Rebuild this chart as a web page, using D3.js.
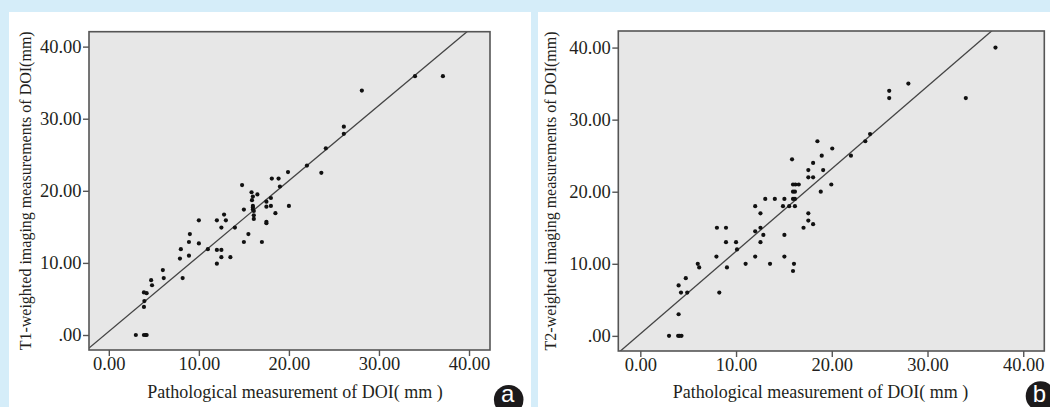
<!DOCTYPE html>
<html lang="en">
<head>
<meta charset="UTF-8">
<title>T1 / T2 DOI vs pathology</title>
<script src="https://d3js.org/d3.v7.min.js"></script>
<style>
  body { margin: 0; background: #d5edf9; }
  svg { display: block; }
  text { font-family: "Liberation Serif", "Times New Roman", serif; fill: #231f20; }
</style>
</head>
<body>
<script>
// [pathological DOI, imaging DOI] in mm
const t1Points = [
  [3, 0], [3.9, 0], [4.1, 0], [4.2, 0], [3.9, 3.9], [3.95, 4.7], [3.9, 5.9], [4.2, 5.8],
  [4.7, 7.6], [4.8, 6.9], [6, 9], [6.1, 7.9], [8, 11.9], [7.9, 10.6], [8.2, 7.9],
  [9, 14], [8.9, 12.9], [8.9, 11], [10, 15.9], [10, 12.7], [11, 11.9], [12, 15.9],
  [12, 11.8], [12, 9.9], [12.5, 11.8], [12.5, 14.9], [12.5, 10.8], [12.8, 16.7], [13, 15.9],
  [13.5, 10.8], [14, 14.9], [14.8, 20.8], [15, 17.4], [15, 12.9], [15.5, 14], [15.85, 19.8],
  [15.9, 18.7], [16, 19.2], [16, 17.9], [16, 17.7], [16, 17.4], [16.1, 17.2], [16.1, 16.6],
  [16.1, 16.1], [16.5, 19.5], [17, 12.9], [17.5, 18.5], [17.5, 17.8], [17.5, 15.7],
  [17.5, 15.5], [18, 19], [18, 17.9], [18.1, 21.7], [18.5, 16.9], [18.85, 21.7], [19, 20.6],
  [19.9, 22.6], [20, 17.9], [22, 23.5], [23.6, 22.5], [24.1, 25.9], [26.1, 28.9],
  [26.1, 27.9], [28.1, 33.9], [34, 35.9], [37.1, 35.9]
];
const t2Points = [
  [3, 0], [3.95, 0], [4.1, 0], [4.3, 0], [4, 3], [4, 7], [4.25, 6], [4.75, 8], [4.9, 6],
  [6, 10], [6.15, 9.5], [7.95, 11], [8, 15], [8.25, 6], [8.95, 15], [8.95, 13], [9.05, 9.5],
  [10, 13], [10.1, 12], [11, 10], [12, 18], [12, 14.5], [12, 11], [12.55, 17], [12.55, 15],
  [12.55, 13], [12.85, 14], [13.05, 19], [13.55, 10], [14.05, 19], [14.9, 18], [15.05, 19],
  [15.05, 14], [15.05, 11], [15.55, 18], [15.85, 24.5], [15.95, 9], [16.05, 10],
  [15.95, 21], [16.2, 21], [16.55, 21], [15.95, 20], [16.15, 20], [15.95, 19], [16.15, 19],
  [16.15, 18], [17.05, 15], [17.55, 23], [17.55, 22], [17.55, 17], [17.55, 16], [18.05, 24],
  [18.05, 22], [18.05, 15.5], [18.5, 27], [18.85, 20], [18.95, 25], [19.1, 23], [19.95, 21],
  [20.05, 26], [22, 25], [23.5, 27], [24, 28], [26, 34], [26, 33], [28, 35], [34, 33],
  [37.1, 40]
];
// fit lines: [intercept, slope]
const t1Fit = [0.5, 1.045];
const t2Fit = [0.28, 1.145];

const xTicks = [0, 10, 20, 30, 40];
const xTickLabels = ["0.00", "10.00", "20.00", "30.00", "40.00"];
const yTicks = [0, 10, 20, 30, 40];
const yTickLabels = [".00", "10.00", "20.00", "30.00", "40.00"];
const xTitle = "Pathological measurement of DOI( mm )";
const yTitles = ["T1-weighted imaging measurements of DOI(mm)", "T2-weighted imaging measurements of DOI(mm)"];
const badges = ["a", "b"];

const svg = d3.select("body").append("svg")
    .attr("width", 1050)
    .attr("height", 407);

// white cards on the blue page
svg.append("rect").attr("x", 9).attr("y", 12).attr("width", 522).attr("height", 395).attr("fill", "#fff");
svg.append("rect").attr("x", 538).attr("y", 12).attr("width", 512).attr("height", 395).attr("fill", "#fff");

const panels = [
  { points: t1Points, fit: t1Fit, yTitle: yTitles[0], badge: badges[0],
    l: 89, r: 490, t: 31.7, b: 350, xDom: [-2.2, 42.33], yDom: [-2.08, 42.07],
    yTitleX: 31, xTitleX: 295, badgeX: 508.7, badgeY: 399.7 },
  { points: t2Points, fit: t2Fit, yTitle: yTitles[1], badge: badges[1],
    l: 618.3, r: 1044.3, t: 31, b: 351, xDom: [-2.3, 42.2], yDom: [-2.1, 42.3],
    yTitleX: 556, xTitleX: 820.5, badgeX: 1040.5, badgeY: 396 }
];

panels.forEach(function(p, k) {
  const x = d3.scaleLinear().domain(p.xDom).range([p.l, p.r]);
  const y = d3.scaleLinear().domain(p.yDom).range([p.b, p.t]);
  const g = svg.append("g");

  g.append("clipPath").attr("id", "clip" + k)
    .append("rect")
      .attr("x", p.l).attr("y", p.t)
      .attr("width", p.r - p.l).attr("height", p.b - p.t);

  g.append("rect")
      .attr("x", p.l).attr("y", p.t)
      .attr("width", p.r - p.l).attr("height", p.b - p.t)
      .attr("fill", "#e7e7e7");

  // fit line, clipped to the plot box
  const ends = p.xDom.map(v => [v, p.fit[0] + p.fit[1] * v]);
  g.append("line")
      .attr("clip-path", "url(#clip" + k + ")")
      .attr("x1", x(ends[0][0])).attr("y1", y(ends[0][1]))
      .attr("x2", x(ends[1][0])).attr("y2", y(ends[1][1]))
      .attr("stroke", "#444")
      .attr("stroke-width", 1.3);

  g.selectAll("circle")
    .data(p.points)
    .enter().append("circle")
      .attr("cx", d => x(d[0]))
      .attr("cy", d => y(d[1]))
      .attr("r", 2.1)
      .attr("fill", "#111");

  g.append("rect")
      .attr("x", p.l).attr("y", p.t)
      .attr("width", p.r - p.l).attr("height", p.b - p.t)
      .attr("fill", "none")
      .attr("stroke", "#555")
      .attr("stroke-width", 1.6);

  const yAxis = g.append("g")
      .attr("transform", "translate(" + p.l + ",0)")
      .call(d3.axisLeft(y).tickValues(yTicks).tickFormat((d, i) => yTickLabels[i]).tickSize(6).tickPadding(1.5));
  const xAxis = g.append("g")
      .attr("transform", "translate(0," + p.b + ")")
      .call(d3.axisBottom(x).tickValues(xTicks).tickFormat((d, i) => xTickLabels[i]).tickSize(6).tickPadding(0.5));

  [yAxis, xAxis].forEach(function(a) {
    a.select(".domain").remove();
    a.selectAll("line").attr("stroke", "#555").attr("stroke-width", 1.4);
    a.selectAll("text")
      .attr("fill", "#231f20")
      .style("font-family", "'Liberation Serif', serif")
      .style("font-size", "18.5px");
  });

  g.append("text")
      .attr("x", p.xTitleX).attr("y", 398)
      .attr("text-anchor", "middle")
      .style("font-size", "18px")
      .text(xTitle);

  g.append("text")
      .attr("transform", "translate(" + p.yTitleX + "," + ((p.t + p.b) / 2) + ") rotate(-90)")
      .attr("text-anchor", "middle")
      .style("font-size", "16px")
      .text(p.yTitle);

  g.append("circle")
      .attr("cx", p.badgeX).attr("cy", p.badgeY).attr("r", 14.8)
      .attr("fill", "#1c1a1b");
  g.append("text")
      .attr("x", p.badgeX - 1).attr("y", 401.5)
      .attr("text-anchor", "middle")
      .style("font-family", "'Liberation Sans', Arial, sans-serif")
      .style("font-size", "24px")
      .style("fill", "#fff")
      .text(p.badge);
});
</script>
</body>
</html>
